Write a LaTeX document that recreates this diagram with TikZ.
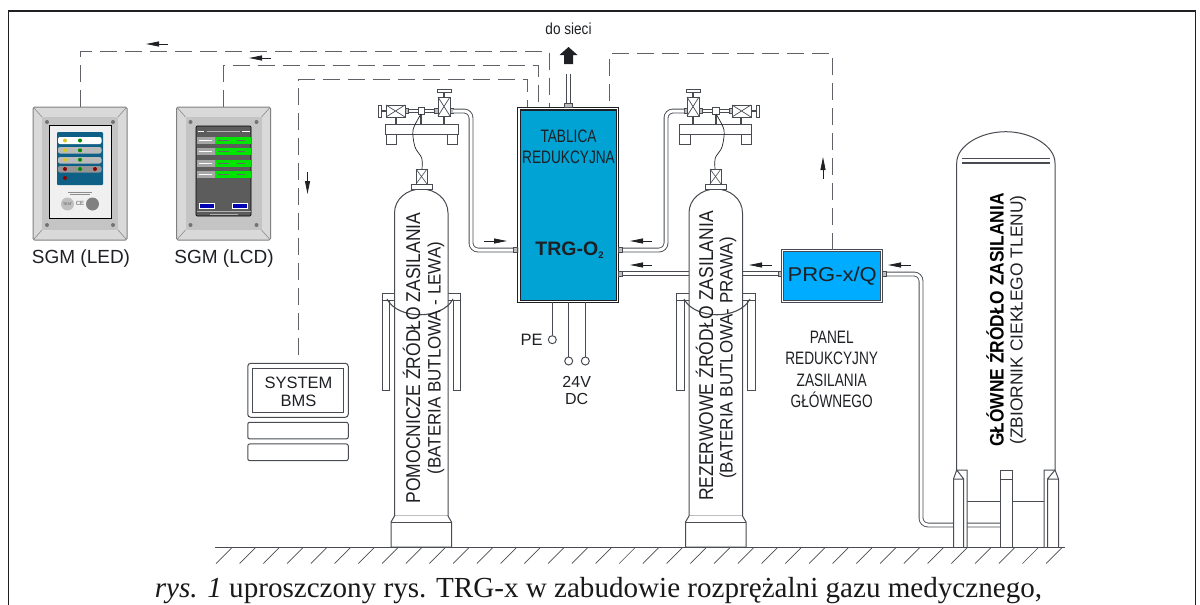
\documentclass[tikz,border=0pt]{standalone}
\usepackage{fontspec}
\setmainfont{Liberation Sans}
\newfontfamily\capfont{Liberation Serif}
\usetikzlibrary{arrows.meta}
\definecolor{LineGray}{RGB}{72,76,82}
\definecolor{SignalGray}{RGB}{95,98,102}
\definecolor{InkDark}{RGB}{30,32,36}
\definecolor{TrgBlue}{RGB}{0,163,212}
\definecolor{PrgBlue}{RGB}{0,172,255}
\definecolor{PanelBlue}{RGB}{14,96,135}
\definecolor{ScreenGray}{RGB}{92,92,92}
\newcommand{\px}[1]{\fontsize{#1}{1.1em}\selectfont}
\tikzset{
  signalline/.style={SignalGray,line width=1pt,dash pattern=on 17pt off 8pt},
  pipeline/.style={LineGray,line width=0.9pt,double=white,double distance=3pt,rounded corners=7pt},
  flowarrow/.style={-{Triangle[length=13pt,width=5pt]},InkDark,line width=0.8pt},
  outline/.style={LineGray,line width=1pt,fill=white},
  fitting/.style={LineGray,line width=0.7pt,fill=black!25},
  sgmframe/.style={draw=black!50,fill=black!15,rounded corners=1.5pt,line width=1pt,
    minimum width=94pt,minimum height=133pt,inner sep=0pt},
  trgbox/.style={draw=InkDark,line width=1.1pt,double=white,double distance=1.3pt,fill=TrgBlue,
    minimum width=98.5pt,minimum height=192.5pt,inner sep=0pt},
  prgbox/.style={draw=LineGray,line width=1pt,double=white,double distance=1.3pt,fill=PrgBlue,
    minimum width=99pt,minimum height=51pt,inner sep=0pt,text=InkDark,font=\px{20}},
  bmsbox/.style={draw=LineGray,line width=1pt,rounded corners=3pt,fill=white,minimum width=100.5pt,inner sep=0pt},
  tinycircle/.style={circle,draw=LineGray,line width=1pt,fill=white,minimum size=8pt,inner sep=0pt},
  sidelabel/.style={text=InkDark,font=\px{19}},
  narrowlabel/.style={text=InkDark,font=\fontsize{18}{21.3}\selectfont,align=center,xscale=0.76},
  bottlelabel/.style={text=InkDark,font=\px{20},rotate=90,xscale=0.875},
  bottlesub/.style={text=InkDark,font=\px{18},rotate=90,xscale=0.94}
}
\begin{document}
\begin{tikzpicture}[x=1pt,y=-1pt]
\useasboundingbox (0,0) rectangle (1200,605);
\draw[InkDark,line width=1.2pt] (8.5,605) -- (8.5,11) -- (1195.5,11) -- (1195.5,605);
% main boxes
\node (trg) [trgbox] at (568.25,205) {};
\node (prg) [prgbox] at (832.2,276) {\scalebox{1.1}[1]{PRG-x/Q}};
\node (bms) [bmsbox,minimum height=54pt] at (298,390.3) {};
\draw[LineGray,line width=1pt] (252.7,368) rectangle (343.3,412);
\node (keysa) [bmsbox,minimum height=16.7pt,rounded corners=2pt] at (298,430.6) {};
\node (keysb) [bmsbox,minimum height=16.7pt,rounded corners=2pt] at (298,452.3) {};
\node (bmstext) [text=InkDark,font=\fontsize{16.5}{18}\selectfont,align=center] at (298.5,391.5) {SYSTEM\\BMS};
% panels
\foreach \n/\cx in {sgmled/80,sgmlcd/223.5}{
  \node (\n) [sgmframe] at (\cx,173.5) {};
  \begin{scope}[shift={(\cx,173.5)}]
    \fill[black!23] (-38,-56.5) rectangle (38,56.5);
    \draw[black!45,line width=0.6pt] (-46,-65.5) -- (-38,-56.5) (46,-65.5) -- (38,-56.5)
      (-46,65.5) -- (-38,56.5) (46,65.5) -- (38,56.5);
    \foreach \sx in {-33,33}{\foreach \sy in {-51.5,51.5}{
      \fill[black!55] (\sx,\sy) circle (2pt);}}
  \end{scope}
}
% LED panel
\draw[black,line width=0.8pt,fill=black!6] (49.5,125) rectangle (111,218);
\fill[PanelBlue,rounded corners=1pt] (57,132) rectangle (103,185);
\fill[white,rounded corners=2pt] (58,137) rectangle (101.5,144);
\foreach \y/\g in {147/27,157/27,166/42}{
  \fill[black!\g,rounded corners=2pt] (58,\y) rectangle (101.5,\y+6.5);}
\foreach \y in {140.5,150.3,159.8}{
  \fill[yellow!80!black] (65,\y) circle (2pt);
  \fill[green!55!black] (80,\y) circle (2pt);}
\fill[red!55!black] (65,169) circle (2pt);
\fill[green!55!black] (80,169) circle (2pt);
\fill[red!55!black] (95,169) circle (2pt);
\fill[red!55!black] (65,178) circle (2pt);
\fill[black!25] (67.5,204) circle (6.5pt);
\fill[black!50] (92.5,204) circle (6.5pt);
\node (ledtest) [font=\px{3.5},text=black!70,inner sep=0pt] at (67.5,204) {TEST};
\node (ledce) [font=\px{6},text=black!70,inner sep=0pt] at (80,203) {CE};
\draw[black!45,line width=0.5pt] (68,192) -- (92,192) (70,194.5) -- (90,194.5);
% LCD panel
\fill[ScreenGray,draw=black,line width=0.6pt,rounded corners=1pt] (196,126) rectangle (251,216);
\draw[white,line width=0.7pt] (197.5,131) -- (204,131) (242,131) -- (250,131);
\draw[black!30,line width=0.7pt] (207,131) -- (240,131);
\foreach \y in {137,148,160,171}{
  \fill[black!35] (197,\y) rectangle (215,\y+6.5);
  \fill[green!90!black] (215,\y) rectangle (250.5,\y+6.5);
  \draw[black!60,line width=0.5pt] (218,\y+3.2) -- (229,\y+3.2) (237,\y+3.2) -- (245,\y+3.2);
  \draw[white,line width=0.5pt] (199,\y+3.2) -- (212,\y+3.2);}
\foreach \bx in {199,232.5}{
  \draw[white,fill=blue!70!black,line width=0.6pt] (\bx,203) rectangle (\bx+15,208.5);}
\draw[black!30,line width=1pt] (197,211) -- (250.5,211);
\draw[black!30,line width=0.5pt] (210,214) -- (238,214);
% signal lines
\coordinate (trgled) at (549,107);
\coordinate (trglcd) at (538.5,107);
\coordinate (trgbms) at (527,107);
\coordinate (trgprg) at (609.5,107);
\draw[signalline] (sgmled.north) |- (549,51.5) -- (trgled);
\draw[signalline] (sgmlcd.north) |- (538.5,65.5) -- (trglcd);
\draw[signalline,dash phase=17pt] (bms.north) |- (527,79.5) -- (trgbms);
\draw[signalline] (prg.north) |- (609.5,53.5) -- (trgprg);
% pipes
\coordinate (tanktap) at (1000,525);
\draw[pipeline] (trg.east |- 0,273.5) -- (prg.west |- 0,273.5);
\draw[pipeline] (prg.east |- 0,274) -- (921,274) -- (921,525) -- (tanktap);
% bottles
\foreach \mx/\sx/\side in {0/1/L,1137/-1/R}{
  \begin{scope}[xshift=\mx pt,xscale=\sx]
    \draw[outline] (382,293) rectangle (460.5,300);
    \draw[outline] (382,300) rectangle (389.5,390);
    \draw[outline] (453,300) rectangle (460.5,390);
    \draw[outline] (394.5,516) -- (394.5,213) .. controls (394.5,199) and (407,189) .. (421.25,189)
      .. controls (435.5,189) and (448,199) .. (448,213) -- (448,516) -- cycle;
    \draw[outline] (394.5,516) -- (391,522) -- (391,547) -- (451.5,547) -- (451.5,522) -- (448,516);
    \draw[LineGray,line width=1pt] (391,522) -- (451.5,522);
    \draw[LineGray,line width=1.1pt] (387,299) .. controls (398,320) and (442,320) .. (453,299);
    \draw[outline] (411,184) rectangle (432,189.5);
    \draw[outline] (416,169) rectangle (427,184);
    \draw[LineGray,line width=0.6pt] (416,169) -- (427,184) (427,169) -- (416,184);
    % manifold
    \draw[outline] (386,124) rectangle (396,144);
    \draw[outline] (447,124) rectangle (457.5,144);
    \draw[outline] (385.5,124) rectangle (458,134);
    \draw[LineGray,line width=1.4pt] (396,117) -- (396,124) (421,113) -- (421,124) (444,116) -- (444,124);
    \draw[LineGray,line width=0.8pt] (405,109.5) -- (438,109.5) (405,112.7) -- (438,112.7);
    \draw[fitting] (405,108.5) rectangle (408,113.7);
    \draw[fitting] (434.5,108.5) rectangle (438,113.7);
    \draw[fitting] (450,108.5) rectangle (453,113.7);
    \draw[outline] (418,107) rectangle (424.5,114);
    \draw[outline] (386,105) rectangle (405,117);
    \draw[LineGray,line width=0.7pt] (386,105) -- (405,117) (405,105) -- (386,117);
    \draw[outline] (378,105) rectangle (381,117);
    \draw[LineGray,line width=1.2pt] (381,111) -- (386,111);
    \draw[outline] (438,97) rectangle (450,116);
    \draw[LineGray,line width=0.7pt] (438,97) -- (450,116) (450,97) -- (438,116);
    \draw[LineGray,line width=1.6pt] (444,92) -- (444,97);
    \draw[outline] (437,89) rectangle (451,92);
    \draw[InkDark,line width=0.7pt] plot[smooth] coordinates {(421,114) (413,130) (415,147) (421.7,158) (422,169)};
    \coordinate (valve\side) at (453,111);
    \coordinate (port\side) at (517,250);
  \end{scope}
}
\draw[pipeline] (valveL) -- (471,111) -- (471,250) -- (trg.west |- portL);
\draw[pipeline] (valveR) -- (666,111) -- (666,250) -- (trg.east |- portR);
\draw[pipeline,rounded corners=0pt] (trg.north) -- (568.25,74);
\draw[fitting] (564.5,103) rectangle (572,107);
% tank
\draw[outline] (956.7,470) -- (956.7,163) .. controls (956.7,146) and (980,131.7) .. (1005.8,131.7)
  .. controls (1031,131.7) and (1055,146) .. (1055,163) -- (1055,470);
\draw[LineGray,line width=1.1pt] (962,158.5) -- (1050,158.5) (962,163) -- (1050,163);
\draw[LineGray,line width=1pt] (967,501) -- (1000,501) (1012,501) -- (1044,501);
\draw[outline] (953.5,547) -- (953.5,479) -- (956.7,470) -- (967,470) -- (967,547);
\draw[LineGray,line width=1pt] (963.7,479) -- (963.7,547) (953.5,479) -- (963.7,479) (956.7,470) -- (963.7,479);
\draw[outline] (1000,470) rectangle (1012,547);
\draw[LineGray,line width=1pt] (1000,479) -- (1012,479);
\draw[outline] (1058.5,547) -- (1058.5,479) -- (1055,470) -- (1044,470) -- (1044,547);
\draw[LineGray,line width=1pt] (1047.5,479) -- (1047.5,547) (1058.5,479) -- (1047.5,479) (1055,470) -- (1047.5,479);
% fittings
\foreach \fx/\fy in {515.5/250,620.5/250,620.5/273.5,780/274,884.5/274}{
  \draw[fitting] (\fx-1.7,\fy-2.6) rectangle (\fx+1.7,\fy+2.6);}
% electric leads
\node (pe) [tinycircle] at (552.3,339.7) {};
\node (dcp) [tinycircle] at (568.7,361) {};
\node (dcm) [tinycircle] at (585.3,361) {};
\foreach \t in {pe,dcp,dcm}{
  \draw[LineGray,line width=1.1pt] (\t.north) -- (\t.north |- trg.south);}
% arrows
\foreach \xa/\ya/\xb/\yb in {168/44/146/44,271/58/249/58,307.5/172/307.5/194,823/179/823/157,
    484/241/507/241,652/241/630/241,652/265/630/265,772/265/749/265,911/265/888/265}{
  \draw[flowarrow] (\xa,\ya) -- (\xb,\yb);}
\fill[InkDark] (568.5,47) -- (577.5,55) -- (573,55) -- (573,64) -- (564,64) -- (564,55) -- (559.5,55) -- cycle;
% ground
\draw[LineGray,line width=1.2pt] (215,547.5) -- (1065,547.5);
\foreach \k in {0,...,35}{
  \draw[LineGray,line width=0.7pt] (216+23.72*\k,563.5) -- (231.5+23.72*\k,548);}
% labels
\node (ledlabel) [sidelabel] at (81,259) {SGM (LED)};
\node (lcdlabel) [sidelabel] at (224,259) {SGM (LCD)};
\node (siecilabel) [text=InkDark,font=\px{16},xscale=0.85] at (568.5,29) {do sieci};
\node (tablica) [narrowlabel] at (568.5,147) {TABLICA\\REDUKCYJNA};
\node (trgname) [text=InkDark,font=\bfseries\px{19.5}] at (569.5,250) {TRG-O\raisebox{-3pt}{\px{9.5}2}};
\node (pelabel) [text=InkDark,font=\px{16.5}] at (531.7,339.5) {PE};
\node (dclabel) [text=InkDark,font=\fontsize{16}{17.6}\selectfont,align=center] at (576.7,390.5) {24V\\DC};
\node (panellabel) [narrowlabel] at (831.7,369.5) {PANEL\\REDUKCYJNY\\ZASILANIA\\GŁÓWNEGO};
\node (bottlea) [bottlelabel] at (411.5,358) {POMOCNICZE ŹRÓDŁO ZASILANIA};
\node (bottleb) [bottlesub] at (436,358) {(BATERIA BUTLOWA - LEWA)};
\node (bottlec) [bottlelabel] at (704.5,356) {REZERWOWE ŹRÓDŁO ZASILANIA};
\node (bottled) [bottlesub] at (728,358) {(BATERIA BUTLOWA- PRAWA)};
\node (tanka) [text=black,font=\bfseries\px{19.5},rotate=90,xscale=0.89] at (995,320) {GŁÓWNE ŹRÓDŁO ZASILANIA};
\node (tankb) [text=InkDark,font=\px{17.4},rotate=90] at (1018,320) {(ZBIORNIK CIEKŁEGO TLENU)};
\node (caption) [anchor=base,text=black!90,font=\capfont\px{29.1},inner sep=0pt] at (598.5,597)
  {\textit{rys. 1} uproszczony rys. TRG-x w zabudowie rozprężalni gazu medycznego,};
\end{tikzpicture}
\end{document}
